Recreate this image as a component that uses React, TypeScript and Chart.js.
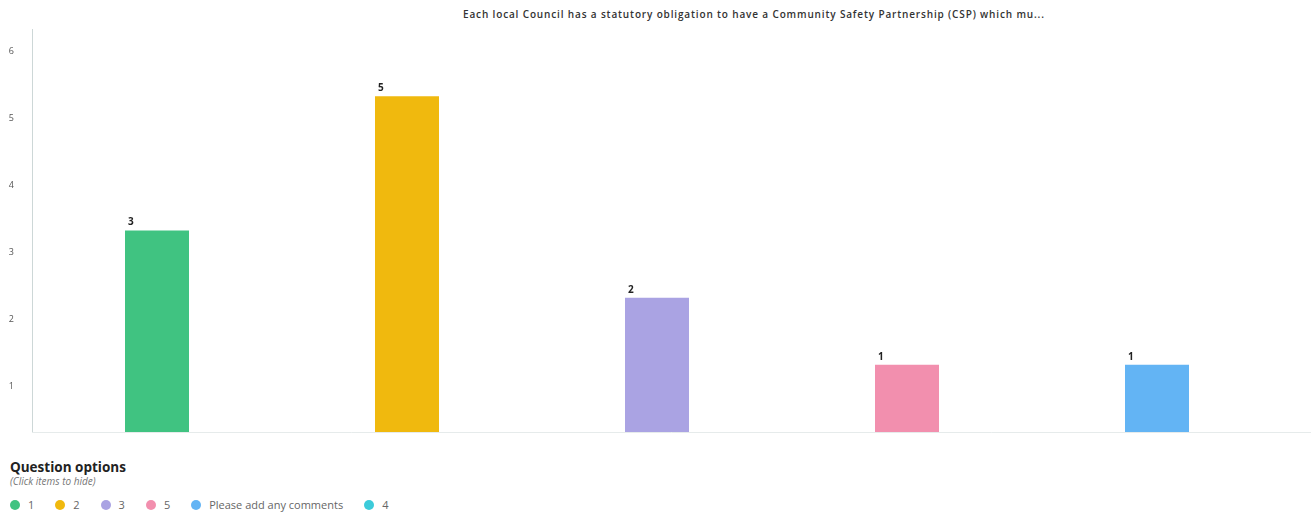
import React, { useEffect, useRef } from "react";
import { Chart, registerables } from "chart.js";

Chart.register(...registerables);

const TITLE = "Each local Council has a statutory obligation to have a Community Safety Partnership (CSP) which mu...";
const categories = ["1", "2", "3", "5", "Please add any comments"];
const counts = [3, 5, 2, 1, 1];
const barColors = ["#40c381", "#f0b90e", "#aaa3e3", "#f28fae", "#63b4f4"];
const legendLabels = ["1", "2", "3", "5", "Please add any comments", "4"];
const legendColors = ["#40c381", "#f0b90e", "#aaa3e3", "#f28fae", "#63b4f4", "#3ccbda"];
const yTicks = [0, 1, 2, 3, 4, 5, 6];

const FONT = "'Open Sans', 'Noto Sans', sans-serif";

const valueLabels = {
  id: "valueLabels",
  afterDatasetsDraw(chart: any) {
    const ctx = chart.ctx;
    const meta = chart.getDatasetMeta(0);
    ctx.save();
    ctx.font = `bold 10px ${FONT}`;
    ctx.fillStyle = "#222";
    ctx.textAlign = "left";
    ctx.textBaseline = "bottom";
    meta.data.forEach((bar: any, i: number) => {
      const v = chart.data.datasets[0].data[i];
      ctx.fillText(String(v), bar.x - bar.width / 2 + 3, bar.y - 3);
    });
    ctx.restore();
  },
};

const baseline = {
  id: "baseline",
  beforeDatasetsDraw(chart: any) {
    const { ctx, chartArea, width } = chart;
    ctx.save();
    ctx.strokeStyle = "#e6ebeb";
    ctx.lineWidth = 1;
    ctx.beginPath();
    ctx.moveTo(chartArea.left, chartArea.bottom + 0.5);
    ctx.lineTo(width, chartArea.bottom + 0.5);
    ctx.stroke();
    ctx.restore();
  },
};

export default function App() {
  const ref = useRef<HTMLCanvasElement | null>(null);

  useEffect(() => {
    document.body.style.margin = "0";
    const chart = new Chart(ref.current as HTMLCanvasElement, {
      type: "bar",
      data: {
        labels: categories,
        datasets: [
          {
            data: counts,
            backgroundColor: barColors,
            borderWidth: 0,
            categoryPercentage: 1,
            barPercentage: 0.256,
          },
        ],
      },
      options: {
        animation: false,
        responsive: false,
        maintainAspectRatio: false,
        layout: { padding: { top: 29, right: 29, bottom: 13, left: 0 } },
        plugins: { legend: { display: false }, tooltip: { enabled: false }, title: { display: false } },
        scales: {
          x: {
            grid: { display: false, drawTicks: false },
            border: { display: false },
            ticks: { display: false },
            afterFit(scale: any) {
              scale.height = 0;
            },
          },
          y: {
            min: 0,
            max: 6,
            afterBuildTicks(scale: any) {
              scale.ticks = yTicks.map((v) => ({ value: v }));
            },
            grid: { display: false, drawTicks: false },
            border: { display: true, color: "#cdd7d7", width: 1 },
            ticks: {
              padding: 18,
              labelOffset: 22,
              color: "#555",
              font: { size: 9, family: FONT },
              callback: (v: any) => (v === 0 ? "" : String(v)),
            },
            afterFit(scale: any) {
              scale.width = 32;
              scale.paddingTop = 0;
              scale.paddingBottom = 0;
            },
          },
        },
      },
      plugins: [baseline, valueLabels],
    });
    return () => chart.destroy();
  }, []);

  return (
    <div style={{ position: "relative", width: 1311, height: 515, background: "#fff", fontFamily: FONT }}>
      <div
        style={{
          position: "absolute",
          top: 7,
          left: 463,
          fontSize: 10,
          fontWeight: 600,
          letterSpacing: 0.85,
          color: "#333",
          whiteSpace: "nowrap",
        }}
      >
        {TITLE}
      </div>
      <canvas ref={ref} width={1311} height={445} style={{ position: "absolute", top: 0, left: 0 }} />
      <div style={{ position: "absolute", top: 459, left: 10 }}>
        <div style={{ fontSize: 13.5, fontWeight: 700, color: "#222", lineHeight: "16px" }}>Question options</div>
        <div style={{ fontSize: 10, fontStyle: "italic", color: "#777", lineHeight: "12px" }}>(Click items to hide)</div>
        <div style={{ display: "flex", alignItems: "center", marginTop: 10, fontSize: 11, color: "#666" }}>
          {legendLabels.map((l, i) => (
            <div key={l} style={{ display: "flex", alignItems: "center", marginRight: 21 }}>
              <span
                style={{
                  display: "inline-block",
                  width: 10,
                  height: 10,
                  borderRadius: 5,
                  background: legendColors[i],
                  marginRight: 8,
                }}
              />
              <span>{l}</span>
            </div>
          ))}
        </div>
      </div>
    </div>
  );
}
